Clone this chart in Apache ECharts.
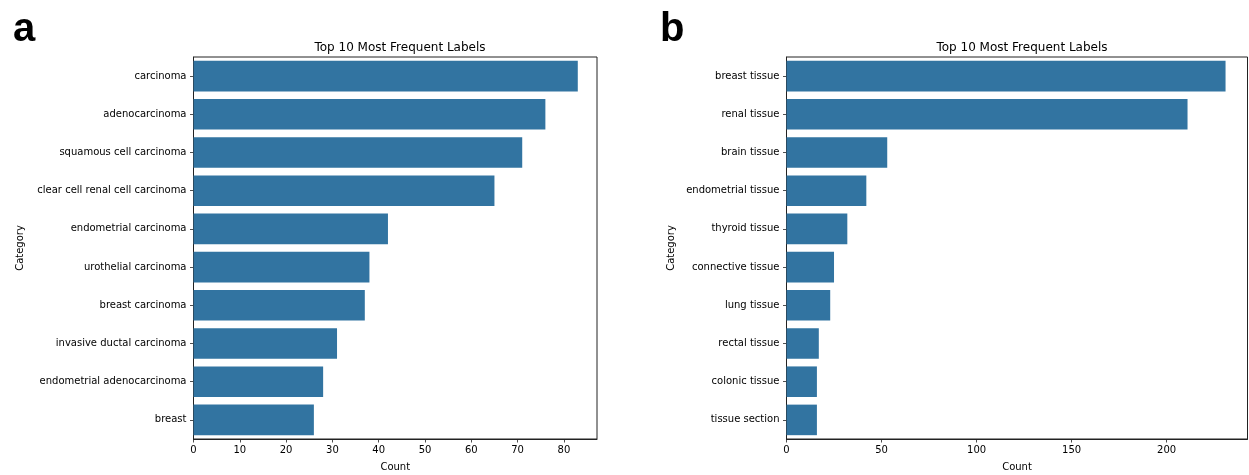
<!DOCTYPE html>
<html>
<head>
<meta charset="utf-8">
<script src="https://cdn.jsdelivr.net/npm/echarts@6/dist/echarts.min.js"></script>
<style>html,body{margin:0;padding:0;background:#fff;}#c{width:1249px;height:475px;}</style>
</head>
<body>
<div id="c"></div>
<script>
const titleText = 'Top 10 Most Frequent Labels';
const catsA = ['carcinoma','adenocarcinoma','squamous cell carcinoma','clear cell renal cell carcinoma','endometrial carcinoma','urothelial carcinoma','breast carcinoma','invasive ductal carcinoma','endometrial adenocarcinoma','breast'];
const valsA = [83,76,71,65,42,38,37,31,28,26];
const catsB = ['breast tissue','renal tissue','brain tissue','endometrial tissue','thyroid tissue','connective tissue','lung tissue','rectal tissue','colonic tissue','tissue section'];
const valsB = [231,211,53,42,32,25,23,17,16,16];

const FONT = 'DejaVu Sans';
const BAR = '#3274a1';
const chart = echarts.init(document.getElementById('c'), null, {renderer:'canvas'});

function xAxis(idx, max, interval) {
  return {
    type:'value', gridIndex: idx, min:0, max:max, interval:interval,
    name:'Count', nameLocation:'middle', nameGap:23,
    nameTextStyle:{fontFamily:FONT, fontSize:10, color:'#000'},
    axisLine:{show:true, lineStyle:{color:'#222', width:1}},
    axisTick:{show:true, length:3.5, lineStyle:{color:'#222', width:0.8}},
    axisLabel:{fontFamily:FONT, fontSize:10, color:'#000', margin:6, showMaxLabel:false},
    splitLine:{show:false}
  };
}
function yAxis(idx, cats, gap) {
  return {
    type:'category', gridIndex: idx, data:cats, inverse:true,
    name:'Category', nameLocation:'middle', nameGap:gap, nameRotate:90,
    nameTextStyle:{fontFamily:FONT, fontSize:10, color:'#000'},
    axisLine:{show:true, lineStyle:{color:'#222', width:1}},
    axisTick:{show:true, alignWithLabel:true, length:3.5, lineStyle:{color:'#222', width:0.8}},
    axisLabel:{fontFamily:FONT, fontSize:10, color:'#000', margin:7, verticalAlign:'middle', lineHeight:12, padding:[5,0,0,0]},
    splitLine:{show:false}
  };
}

chart.setOption({
  animation:false,
  backgroundColor:'#fff',
  title:[
    {text:titleText, left:395, top:37, textAlign:'center', textStyle:{fontFamily:FONT, fontSize:12, fontWeight:'normal', color:'#000'}},
    {text:titleText, left:1017, top:37, textAlign:'center', textStyle:{fontFamily:FONT, fontSize:12, fontWeight:'normal', color:'#000'}},
    {text:'a', left:8, top:5, textStyle:{fontFamily:'Liberation Sans', fontSize:40, fontWeight:'bold', color:'#000'}},
    {text:'b', left:655, top:5, textStyle:{fontFamily:'Liberation Sans', fontSize:40, fontWeight:'bold', color:'#000'}}
  ],
  grid:[
    {left:193.5, right:652, top:57, bottom:36, show:true, borderColor:'#222', borderWidth:1, backgroundColor:'transparent', containLabel:false, outerBoundsMode:'none'},
    {left:786.5, right:1.5, top:57, bottom:36, show:true, borderColor:'#222', borderWidth:1, backgroundColor:'transparent', containLabel:false, outerBoundsMode:'none'}
  ],
  xAxis:[ xAxis(0, 83*1.05, 10), xAxis(1, 231*1.05, 50) ],
  yAxis:[ yAxis(0, catsA, 168), yAxis(1, catsB, 110) ],
  series:[
    {type:'bar', xAxisIndex:0, yAxisIndex:0, data:valsA, barCategoryGap:'20%', itemStyle:{color:BAR}},
    {type:'bar', xAxisIndex:1, yAxisIndex:1, data:valsB, barCategoryGap:'20%', itemStyle:{color:BAR}}
  ]
});
</script>
</body>
</html>
